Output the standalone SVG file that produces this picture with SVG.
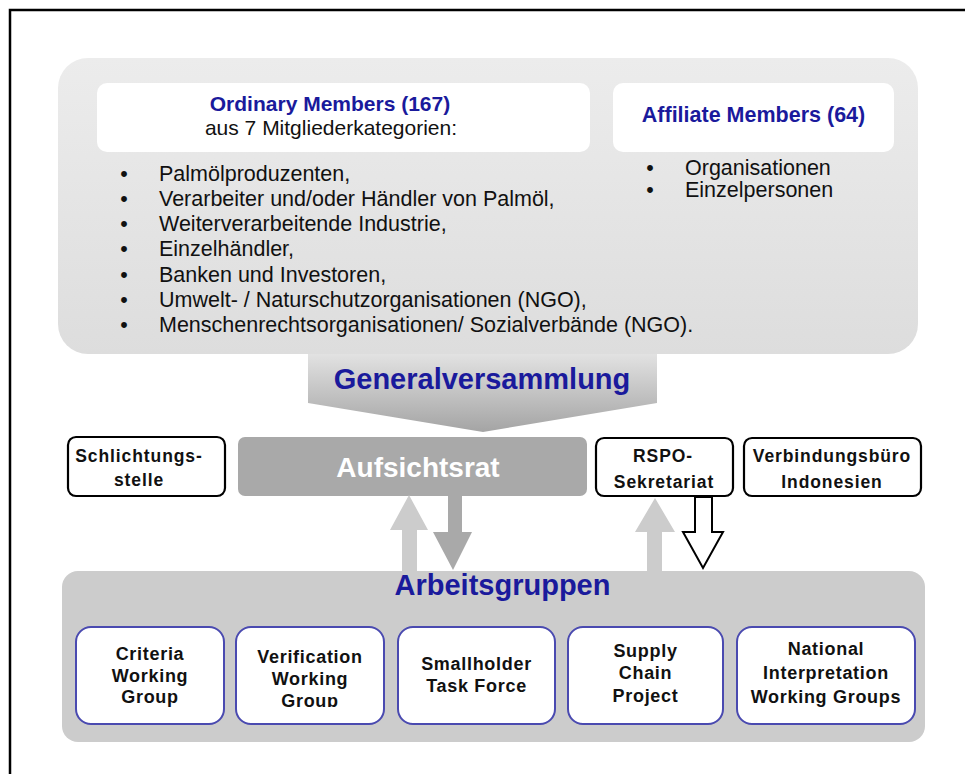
<svg xmlns="http://www.w3.org/2000/svg" width="965" height="774" viewBox="0 0 965 774">
<defs>
<linearGradient id="gPanel" x1="0" y1="0" x2="0" y2="1">
<stop offset="0" stop-color="#ececec"/>
<stop offset="1" stop-color="#dddddd"/>
</linearGradient>
<linearGradient id="gGV" gradientUnits="userSpaceOnUse" x1="0" y1="354" x2="0" y2="432">
<stop offset="0" stop-color="#e2e2e2"/>
<stop offset="1" stop-color="#a4a4a4"/>
</linearGradient>
<clipPath id="clipVer"><rect x="235" y="627" width="150" height="80"/></clipPath>
<style>
text{font-family:"Liberation Sans",Arial,Helvetica,sans-serif;}
.body{font-size:21.5px;fill:#111;}
.blue{font-size:21.5px;font-weight:bold;fill:#1a1a9c;}
.big{font-size:29px;font-weight:bold;fill:#1a1a9c;text-anchor:middle;}
.small{font-size:17.5px;font-weight:bold;fill:#111;text-anchor:middle;letter-spacing:0.9px;}
.wg{font-size:18px;font-weight:bold;fill:#111;text-anchor:middle;letter-spacing:0.7px;}
.blk{fill:#fff;stroke:#000;stroke-width:2.2;}
.wgbox{fill:#fff;stroke:#4a4ab0;stroke-width:2;}
.upA{fill:#cccccc;}
.dnA{fill:#a9a9a9;}
</style>
</defs>
<rect x="0" y="0" width="965" height="774" fill="#fff"/>
<rect x="10" y="10" width="1000" height="1000" fill="none" stroke="#000" stroke-width="2.5"/>

<g id="members">
<rect x="58" y="58" width="860" height="296" rx="30" fill="url(#gPanel)"/>
<g id="ordinary">
<rect x="97" y="83" width="493" height="69" rx="10" fill="#fff"/>
<text class="blue" x="330" y="111" text-anchor="middle" style="font-size:21px">Ordinary Members (167)</text>
<text class="body" x="331" y="134.5" text-anchor="middle" style="font-size:21px">aus 7 Mitgliederkategorien:</text>
<g class="body">
<text x="124" y="181" text-anchor="middle" class="body">•</text><text x="159" y="181" class="body">Palmölproduzenten,</text>
<text x="124" y="206" text-anchor="middle" class="body">•</text><text x="159" y="206" class="body">Verarbeiter und/oder Händler von Palmöl,</text>
<text x="124" y="231" text-anchor="middle" class="body">•</text><text x="159" y="231" class="body">Weiterverarbeitende Industrie,</text>
<text x="124" y="256" text-anchor="middle" class="body">•</text><text x="159" y="256" class="body">Einzelhändler,</text>
<text x="124" y="282" text-anchor="middle" class="body">•</text><text x="159" y="282" class="body">Banken und Investoren,</text>
<text x="124" y="307" text-anchor="middle" class="body">•</text><text x="159" y="307" class="body">Umwelt- / Naturschutzorganisationen (NGO),</text>
<text x="124" y="332" text-anchor="middle" class="body">•</text><text x="159" y="332" class="body">Menschenrechtsorganisationen/ Sozialverbände (NGO).</text>
</g>
</g>
<g id="affiliate">
<rect x="613" y="83" width="281" height="69" rx="10" fill="#fff"/>
<text class="blue" x="753.5" y="122" text-anchor="middle">Affiliate Members (64)</text>
<text x="650" y="175" text-anchor="middle" class="body">•</text><text x="685" y="175" class="body">Organisationen</text>
<text x="650" y="197" text-anchor="middle" class="body">•</text><text x="685" y="197" class="body">Einzelpersonen</text>
</g>
</g>

<g id="generalversammlung">
<path d="M308,354 L657,354 L657,403 L483,432 L308,403 Z" fill="url(#gGV)"/>
<text class="big" x="482" y="389">Generalversammlung</text>
</g>

<g id="schlichtungsstelle">
<rect class="blk" x="68" y="437" width="157" height="59" rx="8"/>
<text class="small" x="139" y="462">Schlichtungs-</text>
<text class="small" x="139" y="486">stelle</text>
</g>

<g id="aufsichtsrat">
<rect x="238" y="437" width="349" height="59" rx="7" fill="#a9a9a9"/>
<text x="418" y="477" text-anchor="middle" style="font-size:28px;font-weight:bold;fill:#fff;">Aufsichtsrat</text>
</g>

<g id="sekretariat">
<rect class="blk" x="596" y="438" width="137" height="58" rx="8"/>
<text class="small" x="663" y="462">RSPO-</text>
<text class="small" x="664" y="488">Sekretariat</text>
</g>

<g id="verbindungsbuero">
<rect class="blk" x="744" y="438" width="177" height="58" rx="8"/>
<text class="small" x="832" y="462">Verbindungsbüro</text>
<text class="small" x="832" y="488">Indonesien</text>
</g>

<g id="arbeitsgruppen">
<rect x="62" y="571" width="863" height="171" rx="16" fill="#cccccc"/>
<text class="big" x="502.5" y="595">Arbeitsgruppen</text>
</g>

<g id="connectors">
<path class="upA" d="M402,573 L402,530 L390,530 L409,495 L428,530 L417,530 L417,573 Z"/>
<path class="dnA" d="M448,496 L462,496 L462,532 L472,532 L453,570 L433,532 L448,532 Z"/>
<path class="upA" d="M647,573 L647,532 L635,532 L655,498 L675,532 L662,532 L662,573 Z"/>
<path d="M695,497 L712,497 L712,532 L723,532 L703,568 L683,532 L695,532 Z" fill="#fff" stroke="#000" stroke-width="2"/>
</g>

<g id="wg-criteria">
<rect class="wgbox" x="76" y="627" width="148" height="97" rx="15"/>
<text class="wg" x="150" y="660">Criteria</text>
<text class="wg" x="150" y="682">Working</text>
<text class="wg" x="150" y="703">Group</text>
</g>
<g id="wg-verification">
<rect class="wgbox" x="236" y="627" width="148" height="97" rx="15"/>
<text class="wg" x="310" y="663">Verification</text>
<text class="wg" x="310" y="685">Working</text>
<text class="wg" x="310" y="707" clip-path="url(#clipVer)">Group</text>
</g>
<g id="wg-smallholder">
<rect class="wgbox" x="398" y="627" width="157" height="97" rx="15"/>
<text class="wg" x="476.5" y="670">Smallholder</text>
<text class="wg" x="476.5" y="692">Task Force</text>
</g>
<g id="wg-supplychain">
<rect class="wgbox" x="568" y="627" width="155" height="97" rx="15"/>
<text class="wg" x="645.5" y="657">Supply</text>
<text class="wg" x="645.5" y="679">Chain</text>
<text class="wg" x="645.5" y="702">Project</text>
</g>
<g id="wg-national">
<rect class="wgbox" x="737" y="627" width="178" height="97" rx="15"/>
<text class="wg" x="826" y="655">National</text>
<text class="wg" x="826" y="679">Interpretation</text>
<text class="wg" x="826" y="703">Working Groups</text>
</g>
</svg>
